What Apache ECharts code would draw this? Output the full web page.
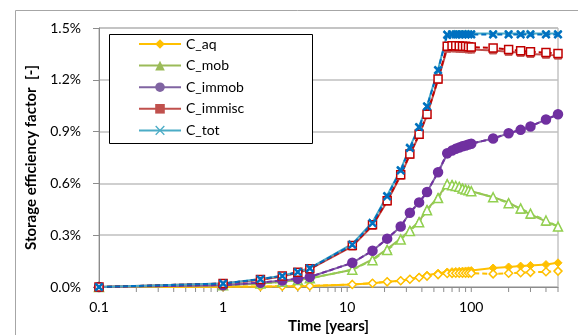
<!DOCTYPE html>
<html>
<head>
<meta charset="utf-8">
<script src="https://cdn.jsdelivr.net/npm/echarts@6.0.0/dist/echarts.min.js"></script>
<style>
  html, body { margin: 0; padding: 0; background: #fff; }
  #chart { width: 578px; height: 335px; }
</style>
</head>
<body>
<div id="chart"></div>
<script>
// time in years (log axis)
const years = [0.1, 1, 2, 3, 4, 5, 11, 16, 21, 27, 32, 38, 44, 54, 64, 70, 75, 80, 85, 90, 95, 100, 150, 200, 250, 300, 400, 500]

// storage efficiency factor, in %
// first set: solid lines, filled markers (the ones in the legend)
const cAq = [0, 0.002, 0.003, 0.004, 0.005, 0.006, 0.015, 0.022, 0.03, 0.036, 0.045, 0.058, 0.068, 0.08, 0.087, 0.089, 0.09, 0.091, 0.092, 0.093, 0.094, 0.095, 0.11, 0.116, 0.121, 0.125, 0.13, 0.14]
const cMob = [0, 0.01, 0.02, 0.03, 0.04, 0.05, 0.1, 0.16, 0.22, 0.28, 0.33, 0.38, 0.45, 0.52, 0.6, 0.595, 0.585, 0.58, 0.575, 0.565, 0.56, 0.555, 0.52, 0.49, 0.45, 0.42, 0.38, 0.35]
const cImmob = [0, 0.01, 0.025, 0.038, 0.047, 0.058, 0.14, 0.21, 0.28, 0.35, 0.43, 0.49, 0.55, 0.665, 0.77, 0.79, 0.8, 0.808, 0.815, 0.82, 0.825, 0.83, 0.86, 0.89, 0.91, 0.93, 0.97, 1.0]
const cImmisc = [0, 0.02, 0.042, 0.061, 0.083, 0.103, 0.235, 0.355, 0.495, 0.645, 0.765, 0.88, 0.995, 1.2, 1.38, 1.382, 1.382, 1.38, 1.38, 1.378, 1.376, 1.375, 1.37, 1.362, 1.356, 1.35, 1.345, 1.34]
const cTot = [0, 0.02, 0.046, 0.065, 0.088, 0.11, 0.25, 0.375, 0.53, 0.68, 0.81, 0.93, 1.05, 1.26, 1.465, 1.468, 1.468, 1.468, 1.468, 1.468, 1.468, 1.468, 1.468, 1.468, 1.468, 1.468, 1.468, 1.468]

// second set: dashed lines, open markers
const cAq2 = [0, 0.002, 0.003, 0.004, 0.005, 0.006, 0.015, 0.022, 0.03, 0.036, 0.045, 0.055, 0.063, 0.072, 0.078, 0.079, 0.08, 0.08, 0.08, 0.08, 0.08, 0.08, 0.076, 0.08, 0.083, 0.085, 0.088, 0.092]
const cMob2 = [0, 0.01, 0.02, 0.03, 0.04, 0.05, 0.1, 0.155, 0.215, 0.275, 0.325, 0.375, 0.445, 0.515, 0.595, 0.59, 0.585, 0.58, 0.57, 0.565, 0.56, 0.555, 0.52, 0.485, 0.455, 0.425, 0.385, 0.35]
const cImmob2 = [0, 0.01, 0.025, 0.038, 0.047, 0.058, 0.14, 0.21, 0.28, 0.35, 0.43, 0.49, 0.55, 0.665, 0.775, 0.79, 0.8, 0.808, 0.815, 0.82, 0.825, 0.83, 0.86, 0.89, 0.91, 0.93, 0.97, 1.0]
const cImmisc2 = [0, 0.02, 0.043, 0.063, 0.085, 0.105, 0.24, 0.36, 0.5, 0.65, 0.77, 0.885, 1.0, 1.205, 1.395, 1.397, 1.397, 1.396, 1.395, 1.394, 1.392, 1.39, 1.384, 1.375, 1.368, 1.362, 1.358, 1.353]
const cTot2 = [0, 0.02, 0.045, 0.064, 0.087, 0.108, 0.245, 0.37, 0.525, 0.675, 0.805, 0.925, 1.045, 1.255, 1.46, 1.462, 1.462, 1.462, 1.462, 1.462, 1.462, 1.462, 1.462, 1.462, 1.462, 1.462, 1.462, 1.462]

// x tick marks (1..9 per decade) and labelled decades
const xTicks = [0.1, 0.2, 0.3, 0.4, 0.5, 0.6, 0.7, 0.8, 0.9, 1, 2, 3, 4, 5, 6, 7, 8, 9, 10, 20, 30, 40, 50, 60, 70, 80, 90, 100, 200, 300, 400, 500]
const xLabels = [0.1, 1, 10, 100]
const legendNames = ['C_aq', 'C_mob', 'C_immob', 'C_immisc', 'C_tot']

const crossPath = 'path://M0,1L1,0L5,4L9,0L10,1L6,5L10,9L9,10L5,6L1,10L0,9L4,5Z'
const font = 'Lato'

function pairs(vals) {
  return years.map((t, i) => [t, vals[i]])
}

function solid(name, vals, color, symbol, size) {
  return {
    name: name,
    type: 'line',
    data: pairs(vals),
    symbol: symbol,
    symbolSize: size,
    showAllSymbol: true,
    color: color,
    lineStyle: { width: 2, color: color },
    itemStyle: { color: color, borderColor: color },
    z: 2
  }
}

function dashed(name, vals, color, symbol, size, fill) {
  return {
    name: name,
    type: 'line',
    data: pairs(vals),
    symbol: symbol,
    symbolSize: size,
    showAllSymbol: true,
    color: color,
    lineStyle: { width: 2, color: color, type: [5, 3] },
    itemStyle: { color: fill || color, borderColor: color, borderWidth: 1.5 },
    z: 3
  }
}

const chart = echarts.init(document.getElementById('chart'))
chart.setOption({
  backgroundColor: '#fff',
  animation: false,
  textStyle: { fontFamily: font },
  graphic: [
    {
      type: 'rect',
      shape: { x: 15.5, y: 10.5, width: 700, height: 400 },
      style: { fill: 'none', stroke: '#A6A6A6', lineWidth: 1 },
      z: 0
    },
    {
      type: 'rect',
      shape: { x: 109.5, y: 34.5, width: 203, height: 109 },
      style: { fill: '#fff', stroke: '#000', lineWidth: 1 },
      z: 5
    }
  ],
  legend: {
    data: legendNames,
    orient: 'vertical',
    left: 138,
    top: 37,
    padding: 0,
    itemWidth: 42,
    itemHeight: 12,
    itemGap: 7.6,
    selectedMode: false,
    textStyle: { fontSize: 14, color: '#000', fontFamily: font },
    z: 10
  },
  grid: {
    left: 99,
    top: 28,
    width: 459,
    height: 259,
    show: true,
    borderColor: '#A6A6A6',
    borderWidth: 1,
    outerBoundsMode: 'none'
  },
  xAxis: {
    type: 'log',
    logBase: 10,
    min: 0.1,
    max: 500,
    name: 'Time [years]',
    nameLocation: 'middle',
    nameGap: 29,
    nameTextStyle: { fontSize: 15, fontWeight: 'bold', color: '#000', fontFamily: font },
    axisLine: { show: true, lineStyle: { color: '#8C8C8C', width: 1 } },
    axisTick: { show: false },
    axisLabel: {
      customValues: xLabels,
      margin: 13,
      fontSize: 14,
      color: '#000',
      formatter: v => String(v)
    },
    splitLine: { show: false }
  },
  yAxis: {
    type: 'value',
    min: 0,
    max: 1.5,
    interval: 0.3,
    name: 'Storage efficiency factor  [-]',
    nameLocation: 'middle',
    nameGap: 60,
    nameTextStyle: { fontSize: 15, fontWeight: 'bold', color: '#000', fontFamily: font },
    axisLine: { show: true, lineStyle: { color: '#8C8C8C', width: 1 } },
    axisTick: { show: true, length: 6, lineStyle: { color: '#8C8C8C' } },
    axisLabel: {
      margin: 18,
      fontSize: 14,
      color: '#000',
      formatter: v => v.toFixed(1) + '%'
    },
    splitLine: { show: true, lineStyle: { color: '#BFBFBF', width: 1.5 } }
  },
  series: [
    // x-axis tick marks at 1..9 of every decade, placed through the log axis
    {
      name: 'ticks',
      type: 'custom',
      silent: true,
      clip: false,
      z: 1,
      data: xTicks.map(t => [t, 0]),
      renderItem: function (params, api) {
        const p = api.coord([api.value(0), 0])
        return {
          type: 'line',
          shape: { x1: p[0], y1: p[1], x2: p[0], y2: p[1] + 5 },
          style: { stroke: '#8C8C8C', lineWidth: 1 }
        }
      }
    },
    solid('C_aq', cAq, '#FFC000', 'diamond', 8),
    solid('C_mob', cMob, '#9BBB59', 'triangle', 8),
    solid('C_immob', cImmob, '#8064A2', 'circle', 8),
    solid('C_immisc', cImmisc, '#C0504D', 'rect', 7),
    solid('C_tot', cTot, '#4BACC6', crossPath, 7),
    dashed('C_aq 2', cAq2, '#FFC000', 'diamond', 8, '#fff'),
    dashed('C_mob 2', cMob2, '#92D050', 'triangle', 9, '#fff'),
    dashed('C_immob 2', cImmob2, '#7030A0', 'circle', 9),
    dashed('C_immisc 2', cImmisc2, '#C00000', 'rect', 8, '#fff'),
    dashed('C_tot 2', cTot2, '#0070C0', crossPath, 7)
  ]
})
</script>
</body>
</html>
